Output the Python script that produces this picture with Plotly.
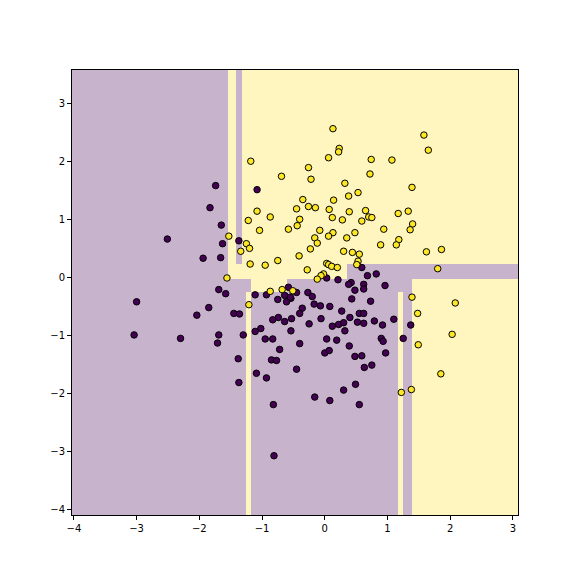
import plotly.graph_objects as go

# decision regions of the tree (cell edges and predicted class)
x_edges = [-4.03, -1.547, -1.408, -1.324, -1.26, -1.18, -0.606, 0.351, 1.16, 1.244, 1.388, 3.08]
y_edges = [-4.09, -0.25, -0.03, 0.224, 3.57]
region_class = [
    [0, 0, 0, 0, 1, 0, 0, 0, 1, 0, 1],
    [0, 0, 0, 0, 0, 1, 0, 0, 0, 0, 1],
    [0, 1, 1, 1, 1, 1, 1, 0, 0, 0, 0],
    [0, 1, 0, 1, 1, 1, 1, 1, 1, 1, 1],
]

# class 1 samples
x1 = [-1.18, -0.69, -1.08, -1.22, -0.87, -0.45, -0.40, -1.04, -0.58, -0.44, -1.53, -1.25, -1.20, -1.34,
      -1.19, -0.95, -0.75, -0.41, -1.56, -0.87, -0.68, -0.51, -1.21, 0.13, 1.58, 1.65, 0.23, 0.22, 0.06,
      0.74, 1.07, -0.26, 0.72, -0.22, 0.32, 1.39, 0.53, 0.38, -0.35, 0.14, -0.26, -0.15, 0.07, 0.39, 0.65,
      1.17, 1.33, 0.12, 0.28, 0.59, 0.70, 0.75, -0.08, 1.40, 1.36, 0.94, 0.13, 0.06, 0.48, 0.35, -0.16,
      -0.12, 1.18, 1.14, 0.89, -0.23, 0.30, 0.44, 0.55, 1.62, 1.86, 0.53, 0.51, 0.03, 0.06, 0.11, 0.20,
      -0.28, 1.80, -0.02, -0.06, -0.12, 1.39, 2.08, 1.48, 2.03, 1.49, 1.85, 1.38, 1.22]
y1 = [2.00, 1.74, 1.14, 0.98, 1.04, 1.18, 1.00, 0.81, 0.83, 0.89, 0.71, 0.58, 0.50, 0.45, 0.23, 0.21,
      0.29, 0.37, -0.01, -0.24, -0.21, -0.23, -0.47, 2.56, 2.45, 2.19, 2.22, 2.16, 2.06, 2.03, 2.02, 1.89,
      1.78, 1.69, 1.62, 1.55, 1.46, 1.40, 1.34, 1.33, 1.22, 1.20, 1.17, 1.13, 1.15, 1.10, 1.14, 1.03, 0.99,
      0.97, 1.04, 1.03, 0.81, 0.92, 0.82, 0.83, 0.77, 0.71, 0.77, 0.68, 0.68, 0.59, 0.65, 0.56, 0.56, 0.49,
      0.45, 0.43, 0.40, 0.44, 0.48, 0.28, 0.22, 0.24, 0.22, 0.19, 0.17, 0.13, 0.15, 0.06, 0.03, -0.03,
      -0.34, -0.44, -0.62, -0.98, -1.16, -1.66, -1.93, -1.98]

# class 0 samples
x0 = [-1.74, -1.08, -1.83, -1.65, -2.51, -1.37, -1.63, -1.94, -1.66, -1.69, -0.58, 0.59, 0.68, 0.82,
      0.03, 0.21, 0.42, 0.38, 0.62, 0.96, 0.48, 0.62, -0.45, -0.64, -0.54, -0.61, -0.75, -1.11, -0.27,
      -0.20, -0.17, -0.07, 0.08, 0.43, -0.36, -0.40, 0.27, 0.40, 0.55, 0.62, -1.45, -1.36, -0.74, -0.83,
      -0.53, -0.64, -0.06, -0.25, 0.12, 0.22, 0.30, 0.52, 0.62, -0.54, 0.32, -1.02, -1.11, -1.30, -0.95,
      -0.83, 0.03, 0.19, -1.58, -3.00, -1.85, -2.04, -0.93, -0.55, -3.04, -2.30, -1.69, -1.71, -0.72,
      -0.85, -0.77, -1.38, -0.40, -0.45, -1.09, -0.93, -1.37, -0.82, -0.81, 0.73, 0.79, 0.92, 1.10, 1.37,
      0.39, 0.90, 0.93, 1.25, 0.97, 0.00, 0.07, 0.48, 0.59, 0.63, 0.75, 0.49, 0.30, -0.16, 0.08, 0.55]
y0 = [1.58, 1.51, 1.20, 0.90, 0.66, 0.63, 0.58, 0.33, 0.34, -0.21, -0.17, 0.17, 0.03, 0.06, -0.01, -0.04,
      -0.09, -0.12, -0.12, -0.14, -0.22, -0.20, -0.26, -0.31, -0.36, -0.42, -0.38, -0.30, -0.26, -0.33,
      -0.46, -0.49, -0.50, -0.37, -0.53, -0.62, -0.58, -0.69, -0.62, -0.62, -0.62, -0.63, -0.69, -0.73,
      -0.71, -0.76, -0.71, -0.80, -0.84, -0.81, -0.78, -0.77, -0.79, -0.92, -0.92, -0.88, -0.93, -0.99,
      -1.06, -1.06, -1.06, -1.08, -0.28, -0.42, -0.52, -0.65, -0.30, -0.34, -0.99, -1.05, -0.99, -1.13,
      -1.24, -1.42, -1.43, -1.40, -1.14, -1.58, -1.65, -1.73, -1.81, -2.19, -3.07, -0.41, -0.75, -0.82,
      -0.72, -0.82, -1.18, -1.05, -1.10, -1.05, -1.30, -1.30, -1.26, -1.36, -1.35, -1.55, -1.51, -1.84,
      -1.94, -2.06, -2.12, -2.19]

fig = go.Figure()
fig.add_trace(go.Heatmap(x=x_edges, y=y_edges, z=region_class, zmin=0, zmax=1,
                         colorscale=[[0, "rgb(199,179,204)"], [1, "rgb(254,246,190)"]],
                         showscale=False, hoverinfo="skip"))
fig.add_trace(go.Scatter(x=x0, y=y0, mode="markers",
                         marker=dict(color="#440154", size=6.5, line=dict(color="black", width=1))))
fig.add_trace(go.Scatter(x=x1, y=y1, mode="markers",
                         marker=dict(color="#fde725", size=6.5, line=dict(color="black", width=1))))

axis_style = dict(showgrid=False, zeroline=False, showline=True, linecolor="black", linewidth=1,
                  mirror=True, ticks="outside", ticklen=4, tickcolor="black",
                  tickfont=dict(family="DejaVu Sans", size=10, color="black"))
fig.update_xaxes(range=[-4.03, 3.08], tickvals=[-4, -3, -2, -1, 0, 1, 2, 3], **axis_style)
fig.update_yaxes(range=[-4.09, 3.57], tickvals=[-4, -3, -2, -1, 0, 1, 2, 3], **axis_style)
fig.update_layout(width=576, height=576, showlegend=False, plot_bgcolor="white", paper_bgcolor="white",
                  margin=dict(l=64, r=66, t=62, b=69))
fig.write_html("out.html")
